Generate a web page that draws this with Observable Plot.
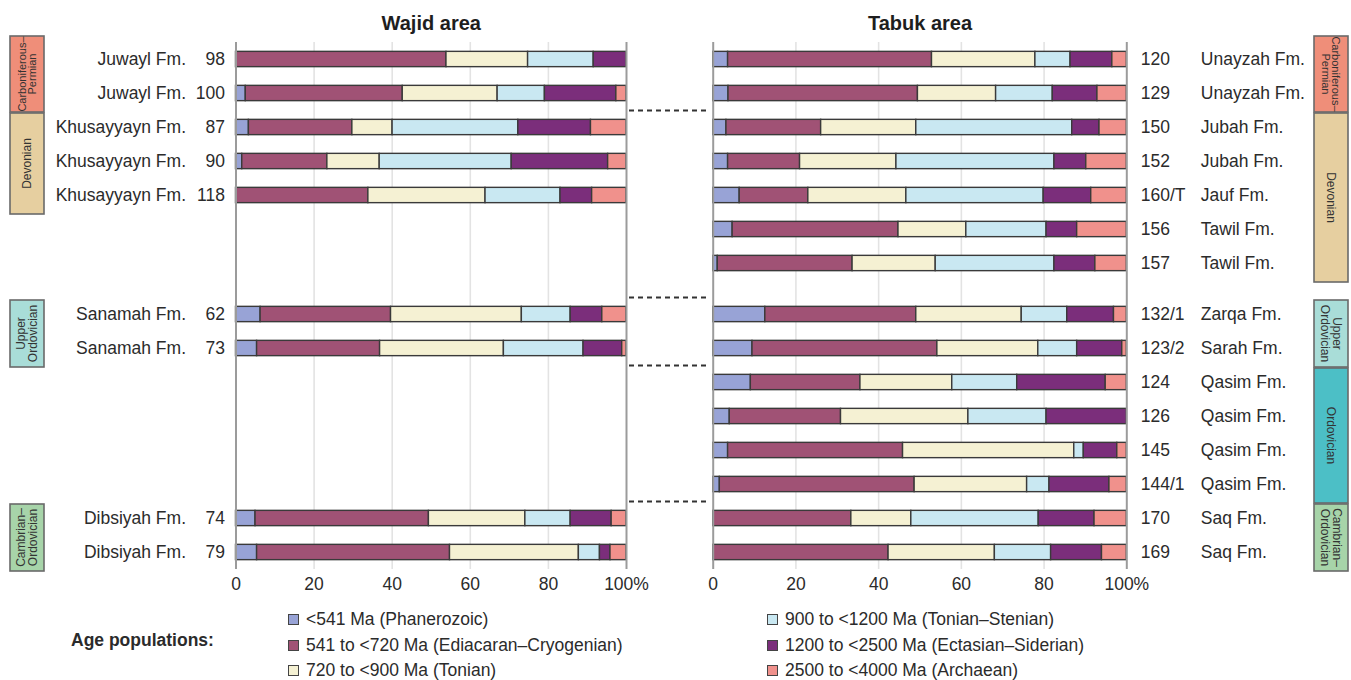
<!DOCTYPE html>
<html>
<head>
<meta charset="utf-8">
<script src="https://cdn.jsdelivr.net/npm/d3@7"></script>
<script src="https://cdn.jsdelivr.net/npm/@observablehq/plot@0.6"></script>
<style>
  body { margin: 0; background: #fff; font-family: "Liberation Sans", Arial, sans-serif; color: #2b2b2b; }
  #root { position: relative; width: 1351px; height: 680px; overflow: hidden; }
  .panel { position: absolute; top: 0; }
  #overlay { position: absolute; left: 0; top: 0; pointer-events: none; }
  .leg { position: absolute; height: 22px; display: flex; align-items: center; font-size: 17.5px; white-space: nowrap; color: #2b2b2b; }
  .sw { width: 9px; height: 9px; border: 1.3px solid #444; margin-right: 7px; }
  .legtitle { position: absolute; font-weight: bold; font-size: 17.5px; color: #2b2b2b; }
</style>
</head>
<body>
<div id="root"></div>
<script>
// ---------- Data ----------
const ageGroups = [
  "<541 Ma (Phanerozoic)",
  "541 to <720 Ma (Ediacaran–Cryogenian)",
  "720 to <900 Ma (Tonian)",
  "900 to <1200 Ma (Tonian–Stenian)",
  "1200 to <2500 Ma (Ectasian–Siderian)",
  "2500 to <4000 Ma (Archaean)"
];
const ageColors = ["#98a3d6", "#a05275", "#f5f1d3", "#c9e8f2", "#7b2e7b", "#f0918c"];

// Wajid area (row slot 0..14, top to bottom)
const wajidNames   = ["Juwayl Fm.", "Juwayl Fm.", "Khusayyayn Fm.", "Khusayyayn Fm.", "Khusayyayn Fm.", "Sanamah Fm.", "Sanamah Fm.", "Dibsiyah Fm.", "Dibsiyah Fm."];
const wajidSamples = ["98", "100", "87", "90", "118", "62", "73", "74", "79"];
const wajidSlots   = [0, 1, 2, 3, 4, 7, 8, 13, 14];
const wajidPhanerozoic = [0, 2.5, 3.3, 1.6, 0, 6.3, 5.4, 5.0, 5.4];
const wajidEdiacaran   = [53.9, 40.2, 26.5, 21.8, 33.9, 33.4, 31.5, 44.4, 49.4];
const wajidTonian      = [20.9, 24.3, 10.3, 13.4, 30.0, 33.5, 31.7, 24.7, 33.0];
const wajidStenian     = [16.8, 12.1, 32.2, 33.8, 19.2, 12.5, 20.4, 11.6, 5.4];
const wajidSiderian    = [8.4, 18.3, 18.6, 24.7, 8.1, 8.1, 9.9, 10.5, 2.7];
const wajidArchaean    = [0, 2.6, 9.1, 4.7, 8.8, 6.2, 1.1, 3.8, 4.1];

// Tabuk area
const tabukNames   = ["Unayzah Fm.", "Unayzah Fm.", "Jubah Fm.", "Jubah Fm.", "Jauf Fm.", "Tawil Fm.", "Tawil Fm.", "Zarqa Fm.", "Sarah Fm.", "Qasim Fm.", "Qasim Fm.", "Qasim Fm.", "Qasim Fm.", "Saq Fm.", "Saq Fm."];
const tabukSamples = ["120", "129", "150", "152", "160/T", "156", "157", "132/1", "123/2", "124", "126", "145", "144/1", "170", "169"];
const tabukSlots   = [0, 1, 2, 3, 4, 5, 6, 7, 8, 9, 10, 11, 12, 13, 14];
const tabukPhanerozoic = [3.6, 3.7, 3.2, 3.6, 6.4, 4.7, 1.1, 12.6, 9.5, 9.1, 4.0, 3.6, 1.6, 0, 0];
const tabukEdiacaran   = [49.3, 45.8, 22.9, 17.4, 16.6, 40.1, 32.6, 36.5, 44.7, 26.5, 26.9, 42.3, 47.1, 33.4, 42.4];
const tabukTonian      = [25.0, 18.9, 23.0, 23.3, 23.7, 16.4, 20.1, 25.5, 24.4, 22.2, 30.8, 41.4, 27.2, 14.5, 25.7];
const tabukStenian     = [8.5, 13.7, 37.7, 38.2, 33.2, 19.4, 28.7, 11.0, 9.4, 15.7, 18.9, 2.3, 5.4, 30.8, 13.6];
const tabukSiderian    = [10.1, 10.8, 6.6, 7.7, 11.5, 7.4, 9.9, 11.3, 10.9, 21.4, 19.4, 8.1, 14.5, 13.5, 12.3];
const tabukArchaean    = [3.5, 7.1, 6.6, 9.8, 8.6, 12.0, 7.6, 3.1, 1.1, 5.1, 0, 2.3, 4.2, 7.8, 6.0];

// Correlation links between the areas (boundary above these row slots)
const linkSlots = [2, 7, 9, 13];

// Stratigraphic period columns
const periodsWajid = [
  {lines: ["Carboniferous–", "Permian"], first: 0, last: 1},
  {lines: ["Devonian"], first: 2, last: 4},
  {lines: ["Upper", "Ordovician"], first: 7, last: 8},
  {lines: ["Cambrian–", "Ordovician"], first: 13, last: 14}
];
const periodsTabuk = [
  {lines: ["Carboniferous–", "Permian"], first: 0, last: 1},
  {lines: ["Devonian"], first: 2, last: 6},
  {lines: ["Upper", "Ordovician"], first: 7, last: 8},
  {lines: ["Ordovician"], first: 9, last: 12},
  {lines: ["Cambrian–", "Ordovician"], first: 13, last: 14}
];
const periodFill = {
  "Carboniferous–": "#ef8e79", "Devonian": "#e6cfa0", "Upper": "#a9ddd8",
  "Ordovician": "#4cbfc6", "Cambrian–": "#a7d4a9"
};

// ---------- Layout helpers ----------
const slotPos = s => (s < 7 ? s : s + 0.5);
const FONT = '"Liberation Sans", Arial, sans-serif';
const TXT = "#2b2b2b";

function buildRows(names, samples, slots, series) {
  const rows = names.map((name, i) => ({name, sample: samples[i], pos: slotPos(slots[i])}));
  const segs = [];
  rows.forEach((r, i) => {
    let acc = 0;
    series.forEach((vals, k) => {
      const v = vals[i];
      if (v > 0) segs.push({pos: r.pos, age: ageGroups[k], x1: acc, x2: acc + v});
      acc += v;
    });
  });
  return {rows, segs};
}

function panel({title, rows, segs, side, width, marginLeft, marginRight, links}) {
  const left = side === "left";
  const marks = [
    Plot.ruleX([20, 40, 60, 80], {stroke: "#e3e3e3", strokeWidth: 1.6}),
    Plot.rect(segs, {x1: "x1", x2: "x2", y1: d => d.pos - 0.225, y2: d => d.pos + 0.225,
                     fill: "age", stroke: "#3a3a3a", strokeWidth: 1.4}),
    Plot.ruleX([0, 100], {stroke: "#9b9b9b", strokeWidth: 2}),
    Plot.axisX({ticks: [0, 20, 40, 60, 80, 100], tickSize: 0, tickPadding: 8,
                tickFormat: d => d === 100 ? "100%" : String(d), fill: TXT}),
    Plot.text([title], {frameAnchor: "top", lineAnchor: "middle", dy: -19,
                        fontWeight: "bold", fontSize: 20, fill: "#1e1e1e"}),
    Plot.text(rows, {x: left ? 0 : 100, y: "pos", text: "sample",
                     textAnchor: left ? "end" : "start", dx: left ? -11 : 14, fill: TXT}),
    Plot.text(rows, {x: left ? 0 : 100, y: "pos", text: "name",
                     textAnchor: left ? "end" : "start", dx: left ? -50 : 74, fill: TXT})
  ];
  if (links) {
    marks.push(Plot.ruleY(links.map(s => slotPos(s) - 0.5), {
      x1: 100, x2: 100, insetLeft: 3, insetRight: -84,
      stroke: "#333", strokeWidth: 2, strokeDasharray: "5,4"}));
  }
  return Plot.plot({
    width, height: 600, marginLeft, marginRight, marginTop: 42, marginBottom: 31,
    x: {domain: [0, 100]},
    y: {domain: [-0.5, 15], reverse: true, axis: null},
    color: {domain: ageGroups, range: ageColors},
    style: {fontFamily: FONT, fontSize: "17.5px", color: TXT, overflow: "visible", background: "transparent"},
    marks
  });
}

const root = document.getElementById("root");

const W = buildRows(wajidNames, wajidSamples, wajidSlots,
  [wajidPhanerozoic, wajidEdiacaran, wajidTonian, wajidStenian, wajidSiderian, wajidArchaean]);
const T = buildRows(tabukNames, tabukSamples, tabukSlots,
  [tabukPhanerozoic, tabukEdiacaran, tabukTonian, tabukStenian, tabukSiderian, tabukArchaean]);

const leftPlot = panel({title: "Wajid area", rows: W.rows, segs: W.segs, side: "left",
  width: 680, marginLeft: 235.5, marginRight: 54, links: linkSlots});
leftPlot.classList.add("panel");
leftPlot.style.left = "0px";

const rightPlot = panel({title: "Tabuk area", rows: T.rows, segs: T.segs, side: "right",
  width: 671, marginLeft: 32.7, marginRight: 224.7});
rightPlot.classList.add("panel");
rightPlot.style.left = "680px";

root.appendChild(rightPlot);
root.appendChild(leftPlot);

// ---------- Period boxes (overlay using the plot's y scale) ----------
const yScale = leftPlot.scale("y");
const ov = d3.select(root).append("svg").attr("id", "overlay")
  .attr("width", 1351).attr("height", 600);

function drawPeriods(periods, x0, x1, rot) {
  periods.forEach(p => {
    let top = yScale.apply(slotPos(p.first) - 0.5) + 3;
    const bot = yScale.apply(slotPos(p.last) + 0.5) + 2;
    if (p.first === 0) top -= 9;
    const g = ov.append("g");
    g.append("rect").attr("x", x0).attr("y", top).attr("width", x1 - x0).attr("height", bot - top)
      .attr("fill", periodFill[p.lines[0]]).attr("stroke", "#6a6a6a").attr("stroke-width", 1.6);
    const cx = (x0 + x1) / 2, cy = (top + bot) / 2;
    const fs = p.lines[0] === "Carboniferous–" ? 11 : 12;
    const lh = p.lines[0] === "Carboniferous–" ? 10.5 : 12.5;
    const t = g.append("text").attr("transform", `translate(${cx},${cy}) rotate(${rot})`)
      .attr("text-anchor", "middle").attr("font-family", FONT).attr("font-size", fs).attr("fill", "#333");
    p.lines.forEach((ln, k) => {
      t.append("tspan").attr("x", 0).attr("y", (k - (p.lines.length - 1) / 2) * lh).attr("dy", "0.35em").text(ln);
    });
  });
}
drawPeriods(periodsWajid, 10, 44, -90);
drawPeriods(periodsTabuk, 1314, 1348, 90);

// ---------- Legend ----------
const lt = document.createElement("div");
lt.className = "legtitle";
lt.textContent = "Age populations:";
lt.style.left = "71px";
lt.style.top = "630px";
root.appendChild(lt);

const legendRowsY = [619, 645, 670];
ageGroups.forEach((g, i) => {
  const col = Math.floor(i / 3), row = i % 3;
  const d = document.createElement("div");
  d.className = "leg";
  d.style.left = (col === 0 ? 288 : 767) + "px";
  d.style.top = (legendRowsY[row] - 11) + "px";
  const sw = document.createElement("span");
  sw.className = "sw";
  sw.style.background = ageColors[i];
  d.appendChild(sw);
  const tx = document.createElement("span");
  tx.textContent = g;
  d.appendChild(tx);
  root.appendChild(d);
});
</script>
</body>
</html>
